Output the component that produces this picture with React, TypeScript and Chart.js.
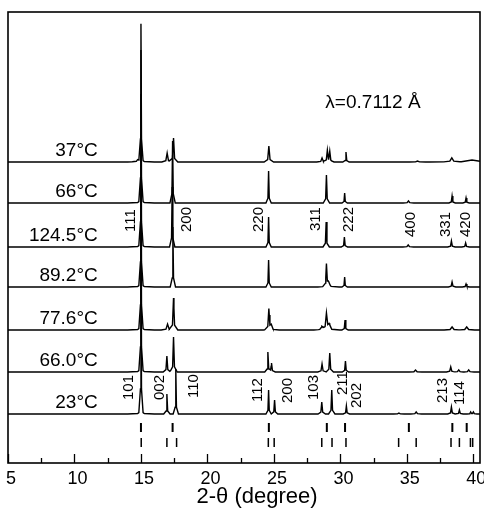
import { useEffect, useRef } from "react";
import { Chart, registerables } from "chart.js";

Chart.register(...registerables);

// 2-theta range of the scan
const X_MIN = 5;
const X_MAX = 40.5;

// Temperatures, top to bottom, and the vertical offset of each pattern
const traceLabels = ["37°C", "66°C", "124.5°C", "89.2°C", "77.6°C", "66.0°C", "23°C"];
const traceOffsets = [301, 260, 216, 176, 133, 91, 49];

// Peaks of each pattern: [2-theta, intensity, half width]
const peaks37 = [
  [14.75, 2, 0.1], [15.0, 135, 0.04], [15.0, 3, 0.25], [16.97, 9, 0.1], [17.45, 24, 0.08],
  [24.62, 16, 0.09], [28.62, 4, 0.1], [29.02, 11, 0.08], [29.2, 10, 0.08], [30.42, 10, 0.06],
  [35.8, 1, 0.15], [38.38, 4, 0.15], [39.9, 2, 0.8],
];
const peaks66 = [
  [15.0, 150, 0.04], [15.0, 3, 0.25], [17.38, 62, 0.05], [24.6, 32, 0.05], [28.95, 28, 0.06],
  [30.32, 10, 0.05], [35.12, 2, 0.1], [38.4, 7, 0.06], [39.45, 5, 0.06],
];
const peaks124 = [
  [15.0, 150, 0.04], [15.0, 3, 0.25], [17.35, 60, 0.05], [24.6, 30, 0.05], [28.93, 25, 0.06],
  [30.3, 10, 0.06], [35.1, 2, 0.1], [38.35, 6, 0.07], [39.42, 4, 0.07],
];
const peaks89 = [
  [15.0, 150, 0.04], [15.0, 3, 0.25], [17.4, 60, 0.05], [24.6, 27, 0.05], [28.95, 22, 0.07],
  [29.1, 4, 0.2], [30.32, 10, 0.05], [38.4, 5, 0.07], [39.45, 3, 0.07],
];
const peaks77 = [
  [15.0, 150, 0.04], [15.0, 3, 0.25], [17.0, 6, 0.12], [17.45, 32, 0.08], [24.62, 21, 0.08],
  [24.8, 4, 0.15], [28.6, 3, 0.15], [28.95, 16, 0.1], [29.15, 5, 0.2], [30.35, 10, 0.06],
  [38.4, 3, 0.15], [39.5, 3, 0.15],
];
const peaks66b = [
  [15.0, 150, 0.04], [15.0, 3, 0.25], [16.95, 16, 0.07], [17.45, 35, 0.07], [24.55, 20, 0.06],
  [24.82, 9, 0.07], [28.62, 8, 0.08], [29.2, 19, 0.07], [30.38, 11, 0.06], [35.65, 2, 0.12],
  [38.3, 5, 0.08], [38.9, 2, 0.1], [39.65, 2, 0.1],
];
const peaks23 = [
  [15.0, 150, 0.04], [15.0, 3, 0.25], [16.95, 20, 0.06], [17.62, 45, 0.05], [24.6, 24, 0.05],
  [25.05, 14, 0.06], [28.6, 12, 0.07], [29.35, 24, 0.06], [30.45, 8, 0.06], [34.4, 1, 0.1],
  [35.7, 2, 0.1], [38.35, 7, 0.07], [38.95, 4, 0.07], [39.8, 2, 0.07], [40.0, 2, 0.07],
];
const tracePeaks = [peaks37, peaks66, peaks124, peaks89, peaks77, peaks66b, peaks23];

// Reference reflection positions (cubic row above, tetragonal row below)
const cubicSticks = [15.0, 17.38, 24.62, 28.98, 30.35, 35.15, 38.42, 39.5];
const tetraSticks = [15.02, 16.95, 17.68, 24.58, 25.02, 28.6, 29.37, 30.42, 34.38, 35.7, 38.32, 38.95, 39.78, 39.95];
const cubicStickRange = [31, 40];
const tetraStickRange = [16, 25];

// Miller indices: [text, 2-theta, height where the text starts]
const cubicIndices = [
  ["111", 14.26, 231], ["200", 18.44, 231], ["220", 23.86, 231], ["311", 28.19, 232],
  ["222", 30.64, 231], ["400", 35.27, 226], ["331", 37.9, 226], ["420", 39.41, 226],
];
const tetraIndices = [
  ["101", 14.07, 63], ["002", 16.45, 63], ["110", 19.0, 65], ["112", 23.79, 61],
  ["200", 26.05, 60], ["103", 28.04, 63], ["211", 30.19, 68], ["202", 31.24, 55],
  ["213", 37.72, 60], ["114", 38.96, 58],
];

const xTickLabels = [5, 10, 15, 20, 25, 30, 35, 40];
const xMinorTicks = [7.5, 12.5, 17.5, 22.5, 27.5, 32.5, 37.5];
const wavelengthText = "λ=0.7112 Å";
const xTitle = "2-θ (degree)";

const FONT = '"Liberation Sans", Arial, Helvetica, sans-serif';

// Piecewise-linear peak profile: sharp top, short skirt
function peakValue(x: number, p: number[]) {
  const [c, h, w] = p;
  const d = Math.abs(x - c);
  if (d <= w) return h - 0.85 * h * (d / w);
  if (d <= 4 * w) return 0.15 * h * ((4 * w - d) / (3 * w));
  return 0;
}

function buildTrace(peaks: number[][], offset: number) {
  const xs = new Set<number>([X_MIN, X_MAX]);
  for (const [c, , w] of peaks) {
    for (const k of [-4, -1, 0, 1, 4]) xs.add(+(c + k * w).toFixed(4));
  }
  const sorted = Array.from(xs).filter((x) => x >= X_MIN && x <= X_MAX).sort((a, b) => a - b);
  return sorted.map((x) => ({
    x,
    y: offset + peaks.reduce((s, p) => s + peakValue(x, p), 0),
  }));
}

function buildSticks(pos: number[], range: number[]) {
  const out: { x: number; y: number | null }[] = [];
  for (const x of pos) {
    out.push({ x, y: range[0] }, { x, y: range[1] }, { x, y: null });
  }
  return out;
}

const annotations = {
  id: "xrdAnnotations",
  afterDraw(chart: any) {
    const { ctx, chartArea, scales } = chart;
    const xs = scales.x;
    const ys = scales.y;
    ctx.save();
    ctx.fillStyle = "#000";
    ctx.strokeStyle = "#000";

    // frame
    ctx.lineWidth = 1.6;
    ctx.strokeRect(chartArea.left, chartArea.top, chartArea.right - chartArea.left, chartArea.bottom - chartArea.top);

    // inward ticks on the bottom axis
    ctx.lineWidth = 1.3;
    for (const v of xTickLabels) {
      const px = Math.round(xs.getPixelForValue(v)) + 0.5;
      ctx.beginPath();
      ctx.moveTo(px, chartArea.bottom);
      ctx.lineTo(px, chartArea.bottom - 9);
      ctx.stroke();
    }
    for (const v of xMinorTicks) {
      const px = Math.round(xs.getPixelForValue(v)) + 0.5;
      ctx.beginPath();
      ctx.moveTo(px, chartArea.bottom);
      ctx.lineTo(px, chartArea.bottom - 5);
      ctx.stroke();
    }

    // tick labels
    ctx.font = `18px ${FONT}`;
    ctx.textAlign = "center";
    ctx.textBaseline = "top";
    for (const v of xTickLabels) {
      ctx.fillText(String(v), xs.getPixelForValue(v) + 3, chartArea.bottom + 7);
    }

    // axis title
    ctx.font = `22px ${FONT}`;
    ctx.fillText(xTitle, (chartArea.left + chartArea.right) / 2 + 13, chartArea.bottom + 23);

    // temperature labels
    ctx.font = `19px ${FONT}`;
    ctx.textAlign = "right";
    ctx.textBaseline = "alphabetic";
    traceLabels.forEach((t, i) => {
      ctx.fillText(t, xs.getPixelForValue(11.75), ys.getPixelForValue(traceOffsets[i] + 6));
    });

    // wavelength
    ctx.font = `19px ${FONT}`;
    ctx.textAlign = "left";
    ctx.fillText(wavelengthText, xs.getPixelForValue(28.87), ys.getPixelForValue(355));

    // Miller indices, rotated
    ctx.font = `15px ${FONT}`;
    ctx.textBaseline = "middle";
    ctx.textAlign = "left";
    for (const [t, x, y] of [...cubicIndices, ...tetraIndices] as [string, number, number][]) {
      ctx.save();
      ctx.translate(xs.getPixelForValue(x), ys.getPixelForValue(y));
      ctx.rotate(-Math.PI / 2);
      ctx.fillText(t, 0, 0);
      ctx.restore();
    }
    ctx.restore();
  },
};

export default function App() {
  const ref = useRef<HTMLCanvasElement | null>(null);

  useEffect(() => {
    if (!ref.current) return;
    const lineStyle = { showLine: true, pointRadius: 0, borderColor: "#000", backgroundColor: "#000", tension: 0 };
    const datasets: any[] = tracePeaks.map((p, i) => ({
      ...lineStyle,
      label: traceLabels[i],
      data: buildTrace(p, traceOffsets[i]),
      borderWidth: 1.4,
    }));
    datasets.push({ ...lineStyle, label: "cubic", data: buildSticks(cubicSticks, cubicStickRange), borderWidth: 2, spanGaps: false });
    datasets.push({ ...lineStyle, label: "tetragonal", data: buildSticks(tetraSticks, tetraStickRange), borderWidth: 1.5, spanGaps: false });

    const chart = new Chart(ref.current, {
      type: "scatter",
      data: { datasets },
      options: {
        animation: false,
        responsive: false,
        layout: { padding: { left: 8, right: 4, top: 12, bottom: 58 } },
        plugins: { legend: { display: false }, tooltip: { enabled: false } },
        scales: {
          x: { type: "linear", min: X_MIN, max: X_MAX, display: false },
          y: { type: "linear", min: 0, max: 451, display: false },
        },
      },
      plugins: [annotations],
    });
    return () => chart.destroy();
  }, []);

  return (
    <div style={{ position: "fixed", left: 0, top: 0, width: 484, height: 521, background: "#fff" }}>
      <canvas ref={ref} width={484} height={521} style={{ display: "block" }} />
    </div>
  );
}
